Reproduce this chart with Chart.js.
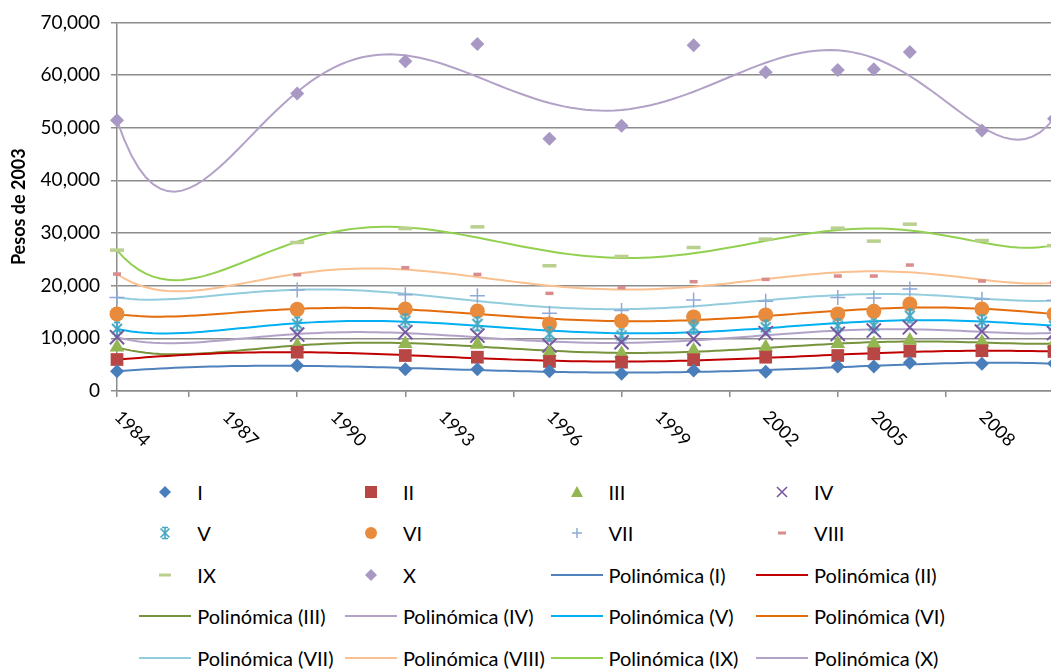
<!DOCTYPE html>
<html>
<head>
<meta charset="utf-8">
<script src="https://cdn.jsdelivr.net/npm/chart.js@4.4.0/dist/chart.umd.min.js"></script>
<style>
    html, body { margin: 0; padding: 0; background: #fff; overflow: hidden; }
    #wrap { position: relative; width: 1051px; height: 669px; overflow: hidden; }
    #chart { position: absolute; left: 0; top: 0; }
    .leg { position: absolute; height: 22px; display: flex; align-items: center;
           font: 20px Lato, sans-serif; color: #000; white-space: nowrap; }
    .leg svg { width: 52px; height: 22px; margin-right: 6px; flex: none; }
</style>
</head>
<body>
<div id="wrap">
    <canvas id="chart" width="1054" height="470"></canvas>
    <div id="legend"></div>
</div>
<script>
// Ingreso por decil (pesos de 2003)
const years = [1984, 1989, 1992, 1994, 1996, 1998, 2000, 2002, 2004, 2005, 2006, 2008, 2010];
const decilI    = [3770, 4850, 4150, 4150, 3770, 3270, 3900, 3650, 4660, 4660, 5360, 5170, 5200];
const decilII   = [5980, 7370, 6740, 6420, 5610, 5470, 5930, 6420, 6740, 7060, 7560, 7650, 7500];
const decilIII  = [8310, 8640, 8960, 8830, 7370, 7060, 7690, 8310, 8960, 8960, 9580, 9260, 9000];
const decilIV   = [10210, 10720, 11160, 10530, 8640, 9260, 9900, 10970, 10850, 11480, 12100, 11290, 11000];
const decilV    = [11800, 12740, 13370, 12740, 10850, 10530, 12100, 12100, 12420, 12420, 14320, 13180, 12400];
const decilVI   = [14640, 15510, 15580, 15200, 12740, 13310, 14070, 14450, 14640, 15130, 16530, 15580, 14600];
const decilVII  = [17780, 19190, 18300, 18110, 14750, 15270, 17290, 17030, 17780, 17670, 19370, 17410, 17200];
const decilVIII = [22210, 22080, 23410, 22140, 18540, 19620, 20760, 21200, 21830, 21830, 23920, 20890, 20600];
const decilIX   = [26760, 28200, 30850, 31170, 23790, 25550, 27250, 28840, 30930, 28460, 31680, 28580, 27600];
const decilX    = [51440, 56500, 62600, 65900, 47900, 50360, 65640, 60530, 60970, 61100, 64380, 49490, 51700];

const seriesNames = ['I', 'II', 'III', 'IV', 'V', 'VI', 'VII', 'VIII', 'IX', 'X'];
const seriesValues = [decilI, decilII, decilIII, decilIV, decilV, decilVI, decilVII, decilVIII, decilIX, decilX];
const xTickLabels = [1984, 1987, 1990, 1993, 1996, 1999, 2002, 2005, 2008];

// styles
const markerColors = ['#4A7EBB', '#B84644', '#93B552', '#7659A0', '#44A6C2', '#E98B3C', '#8FAAD6', '#D88C8C', '#B9D08F', '#A798C4'];
const markerKinds  = ['diamond', 'square', 'triangle', 'x', 'star', 'circle', 'plus', 'dashS', 'dashL', 'diamond'];
const trendColors  = ['#4F81BD', '#C00000', '#77933C', '#B3A2C7', '#00B0F0', '#E46C0A', '#93CDDD', '#FAC090', '#92D050', '#B3A2C7'];
const FONT = 'Lato, sans-serif';

// Excel style polynomial trendline (order 6), least squares on the series
function polyFit(xs, ys, deg) {
    const n = deg + 1;
    const norm = x => (x - 1997) / 13;
    const A = Array.from({ length: n }, () => new Array(n + 1).fill(0));
    xs.forEach((x, k) => {
        const t = norm(x);
        for (let i = 0; i < n; i++) {
            for (let j = 0; j < n; j++) A[i][j] += Math.pow(t, i + j);
            A[i][n] += ys[k] * Math.pow(t, i);
        }
    });
    for (let c = 0; c < n; c++) {
        let p = c;
        for (let r = c + 1; r < n; r++) if (Math.abs(A[r][c]) > Math.abs(A[p][c])) p = r;
        [A[c], A[p]] = [A[p], A[c]];
        for (let r = 0; r < n; r++) {
            if (r === c) continue;
            const f = A[r][c] / A[c][c];
            for (let k = c; k <= n; k++) A[r][k] -= f * A[c][k];
        }
    }
    const coef = A.map((row, i) => row[n] / row[i]);
    return x => coef.reduce((s, c, i) => s + c * Math.pow(norm(x), i), 0);
}

function trendPoints(values) {
    const f = polyFit(years, values, 6);
    const pts = [];
    for (let x = years[0]; x <= years[years.length - 1] + 1e-9; x += 0.2) pts.push({ x: x, y: f(x) });
    return pts;
}

// asterisk marker like Excel's "star"
function starImage(color) {
    const c = document.createElement('canvas');
    c.width = 16; c.height = 16;
    const g = c.getContext('2d');
    g.strokeStyle = color; g.lineWidth = 2;
    g.beginPath();
    g.moveTo(3, 3); g.lineTo(13, 13);
    g.moveTo(13, 3); g.lineTo(3, 13);
    g.moveTo(8, 1); g.lineTo(8, 15);
    g.moveTo(5, 1.5); g.lineTo(11, 1.5);
    g.moveTo(5, 14.5); g.lineTo(11, 14.5);
    g.stroke();
    return c;
}

function markerStyle(kind, color) {
    switch (kind) {
        case 'diamond':  return { pointStyle: 'rectRot', pointRadius: 7, backgroundColor: color, borderColor: color, borderWidth: 0 };
        case 'square':   return { pointStyle: 'rect', pointRadius: 9, backgroundColor: color, borderColor: color, borderWidth: 0 };
        case 'triangle': return { pointStyle: 'triangle', pointRadius: 8.5, backgroundColor: color, borderColor: color, borderWidth: 0 };
        case 'x':        return { pointStyle: 'crossRot', pointRadius: 10, backgroundColor: color, borderColor: color, borderWidth: 2 };
        case 'star':     return { pointStyle: starImage(color), pointRadius: 8, backgroundColor: color, borderColor: color };
        case 'circle':   return { pointStyle: 'circle', pointRadius: 7.5, backgroundColor: color, borderColor: color, borderWidth: 0 };
        case 'plus':     return { pointStyle: 'cross', pointRadius: 7.5, backgroundColor: color, borderColor: color, borderWidth: 1.5 };
        case 'dashS':    return { pointStyle: 'line', pointRadius: 4, backgroundColor: color, borderColor: color, borderWidth: 3.5 };
        case 'dashL':    return { pointStyle: 'line', pointRadius: 7, backgroundColor: color, borderColor: color, borderWidth: 3.5 };
    }
}

const datasets = [];
seriesNames.forEach((name, i) => {
    datasets.push(Object.assign({
        label: name,
        data: years.map((y, k) => ({ x: y, y: seriesValues[i][k] })),
        showLine: false,
        order: 1,
        clip: false
    }, markerStyle(markerKinds[i], markerColors[i])));
});
seriesNames.forEach((name, i) => {
    datasets.push({
        label: 'Polinómica (' + name + ')',
        data: trendPoints(seriesValues[i]),
        showLine: true,
        borderColor: trendColors[i],
        borderWidth: 2,
        pointRadius: 0,
        tension: 0,
        order: 2
    });
});

// rotated year labels under the x axis
const xLabelsPlugin = {
    id: 'xLabels',
    afterDraw(chart) {
        const xs = chart.scales.x;
        const ctx = chart.ctx;
        ctx.save();
        ctx.font = '18px ' + FONT;
        ctx.fillStyle = '#000';
        ctx.textAlign = 'left';
        ctx.textBaseline = 'middle';
        xTickLabels.forEach(year => {
            const px = xs.getPixelForValue(year);
            ctx.save();
            ctx.translate(px + 0.5, xs.top + 23);
            ctx.rotate(Math.PI / 4);
            ctx.fillText(String(year), 0, 0);
            ctx.restore();
        });
        ctx.restore();
    }
};

const chart = new Chart(document.getElementById('chart').getContext('2d'), {
    type: 'scatter',
    data: { datasets: datasets },
    options: {
        responsive: false,
        animation: false,
        layout: { autoPadding: false, padding: { top: 21, left: 0, right: 0, bottom: 0 } },
        plugins: { legend: { display: false }, tooltip: { enabled: false } },
        scales: {
            x: {
                type: 'linear',
                min: 1984,
                max: 2010,
                afterFit: s => { s.height = 79; },
                ticks: { display: false, stepSize: 3 },
                grid: { drawOnChartArea: false, drawTicks: true, tickLength: 6, color: '#8C8C8C', lineWidth: 1.5 },
                border: { color: '#8C8C8C', width: 1.5 }
            },
            y: {
                min: 0,
                max: 70000,
                afterFit: s => { s.width = 117; },
                ticks: {
                    stepSize: 10000,
                    padding: 11,
                    color: '#000',
                    font: { family: FONT, size: 19 },
                    callback: v => v.toLocaleString('en-US')
                },
                grid: { color: '#8C8C8C', lineWidth: 1.5, tickLength: 6 },
                border: { color: '#8C8C8C', width: 1.5 },
                title: {
                    display: true,
                    text: 'Pesos de 2003',
                    color: '#000',
                    font: { family: FONT, size: 18, weight: 'bold' },
                    padding: { top: 8, bottom: 0 }
                }
            }
        }
    },
    plugins: [xLabelsPlugin]
});

// legend: 4 columns, 5 rows, like the Excel one
function legendSymbol(kind, color, isLine) {
    const c = 26, m = 11;
    let s = '';
    if (isLine) {
        s = `<line x1="0" y1="${m}" x2="52" y2="${m}" stroke="${color}" stroke-width="2"/>`;
    } else if (kind === 'diamond') {
        s = `<polygon points="${c - 6},${m} ${c},${m - 6} ${c + 6},${m} ${c},${m + 6}" fill="${color}"/>`;
    } else if (kind === 'square') {
        s = `<rect x="${c - 6}" y="${m - 6}" width="12" height="12" fill="${color}"/>`;
    } else if (kind === 'triangle') {
        s = `<polygon points="${c - 6},${m + 5} ${c},${m - 6} ${c + 6},${m + 5}" fill="${color}"/>`;
    } else if (kind === 'x') {
        s = `<path d="M${c - 5} ${m - 5}L${c + 5} ${m + 5}M${c + 5} ${m - 5}L${c - 5} ${m + 5}" stroke="${color}" stroke-width="1.6"/>`;
    } else if (kind === 'star') {
        s = `<path d="M${c - 4.5} ${m - 4.5}L${c + 4.5} ${m + 4.5}M${c + 4.5} ${m - 4.5}L${c - 4.5} ${m + 4.5}M${c} ${m - 6}L${c} ${m + 6}M${c - 3} ${m - 5.5}L${c + 3} ${m - 5.5}M${c - 3} ${m + 5.5}L${c + 3} ${m + 5.5}" stroke="${color}" stroke-width="1.6"/>`;
    } else if (kind === 'circle') {
        s = `<circle cx="${c}" cy="${m}" r="6" fill="${color}"/>`;
    } else if (kind === 'plus') {
        s = `<path d="M${c - 5} ${m}L${c + 5} ${m}M${c} ${m - 5}L${c} ${m + 5}" stroke="${color}" stroke-width="1.5"/>`;
    } else if (kind === 'dashS') {
        s = `<rect x="${c - 4}" y="${m - 1.5}" width="8" height="3" fill="${color}"/>`;
    } else if (kind === 'dashL') {
        s = `<rect x="${c - 6}" y="${m - 1.5}" width="12" height="3" fill="${color}"/>`;
    }
    return `<svg viewBox="0 0 52 22">${s}</svg>`;
}

const legendItems = [];
seriesNames.forEach((n, i) => legendItems.push({ text: n, sym: legendSymbol(markerKinds[i], markerColors[i], false) }));
seriesNames.forEach((n, i) => legendItems.push({ text: 'Polinómica (' + n + ')', sym: legendSymbol(null, trendColors[i], true) }));

const legendEl = document.getElementById('legend');
legendItems.forEach((it, idx) => {
    const col = idx % 4, row = Math.floor(idx / 4);
    const d = document.createElement('div');
    d.className = 'leg';
    d.style.left = (139.3 + col * 205.6) + 'px';
    d.style.top = (491.7 + row * 41.5 - 11) + 'px';
    d.innerHTML = it.sym + '<span>' + it.text + '</span>';
    legendEl.appendChild(d);
});
</script>
</body>
</html>
